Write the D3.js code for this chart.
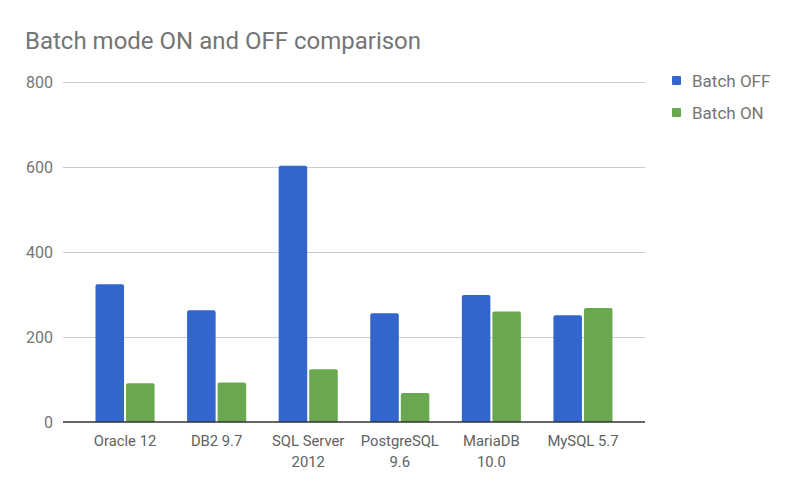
<!DOCTYPE html>
<html><head><meta charset="utf-8">
<script src="https://cdn.jsdelivr.net/npm/d3@7"></script>
<style>body{margin:0;background:#fff;} svg{display:block;font-family:Roboto,sans-serif;}</style>
</head><body>
<svg id="chart" width="799" height="493"></svg>
<script>
const categories = [["Oracle 12"], ["DB2 9.7"], ["SQL Server", "2012"], ["PostgreSQL", "9.6"], ["MariaDB", "10.0"], ["MySQL 5.7"]];
const seriesNames = ["Batch OFF", "Batch ON"];
const batchOff = [324, 263, 603, 256, 299, 251];
const batchOn = [91, 93, 124, 68, 260, 268];
const yTicks = [0, 200, 400, 600, 800];
const colors = ["#3366cc", "#6aa84f"];

const svg = d3.select("#chart");
const pLeft = 63, pRight = 645, pTop = 82, pBottom = 422;
const keys = categories.map(c => c.join(" "));
const x0 = d3.scaleBand().domain(keys).range([pLeft, pRight]).padding(0.355);
const x1 = d3.scaleBand().domain(seriesNames).range([0, x0.bandwidth()]);
const y = d3.scaleLinear().domain([0, 800]).range([pBottom, pTop]);

svg.append("text").attr("x", 25).attr("y", 49).attr("fill", "#757575")
  .attr("font-size", 24).text("Batch mode ON and OFF comparison");

// gridlines
svg.append("g").selectAll("line").data(yTicks.filter(d => d > 0)).join("line")
  .attr("x1", pLeft).attr("x2", pRight).attr("y1", d => Math.round(y(d)) + 0.5).attr("y2", d => Math.round(y(d)) + 0.5)
  .attr("stroke", "#cccccc").attr("stroke-width", 1);

// y labels
svg.append("g").selectAll("text").data(yTicks).join("text")
  .attr("x", 53).attr("y", d => y(d)).attr("dy", "0.36em").attr("text-anchor", "end")
  .attr("fill", "#757575").attr("font-size", 16).text(d => d);

// bars
const data = keys.map((k, i) => ({ key: k, vals: [batchOff[i], batchOn[i]] }));
const g = svg.append("g").selectAll("g").data(data).join("g")
  .attr("transform", d => `translate(${x0(d.key)},0)`);
g.selectAll("path").data(d => d.vals.map((v, j) => ({ v, s: seriesNames[j], j }))).join("path")
  .attr("fill", d => colors[d.j])
  .attr("d", d => {
    const x = x1(d.s) + (d.j === 1 ? 1 : 0), w = x1.bandwidth() - 1;
    const yt = y(d.v), yb = y(0), r = 2;
    return `M${x},${yb}V${yt + r}Q${x},${yt} ${x + r},${yt}H${x + w - r}Q${x + w},${yt} ${x + w},${yt + r}V${yb}Z`;
  });

// baseline
svg.append("line").attr("x1", pLeft).attr("x2", pRight).attr("y1", pBottom).attr("y2", pBottom)
  .attr("stroke", "#333333").attr("stroke-width", 1.5);

// x labels
const xl = svg.append("g").selectAll("text").data(categories).join("text")
  .attr("x", (d, i) => x0(keys[i]) + x0.bandwidth() / 2).attr("y", 446)
  .attr("text-anchor", "middle").attr("fill", "#616161").attr("font-size", 14.8);
xl.selectAll("tspan").data(d => d).join("tspan")
  .attr("x", function () { return this.parentNode.getAttribute("x"); })
  .attr("dy", (d, i) => i === 0 ? 0 : 21).text(d => d);

// legend
const lg = svg.append("g").selectAll("g").data(seriesNames).join("g")
  .attr("transform", (d, i) => `translate(672,${76 + i * 32})`);
lg.append("rect").attr("width", 9).attr("height", 9).attr("rx", 1).attr("fill", (d, i) => colors[i]);
lg.append("text").attr("x", 20).attr("y", 4.5).attr("dy", "0.36em").attr("fill", "#757575")
  .attr("font-size", 17).text(d => d);
</script>
</body></html>
